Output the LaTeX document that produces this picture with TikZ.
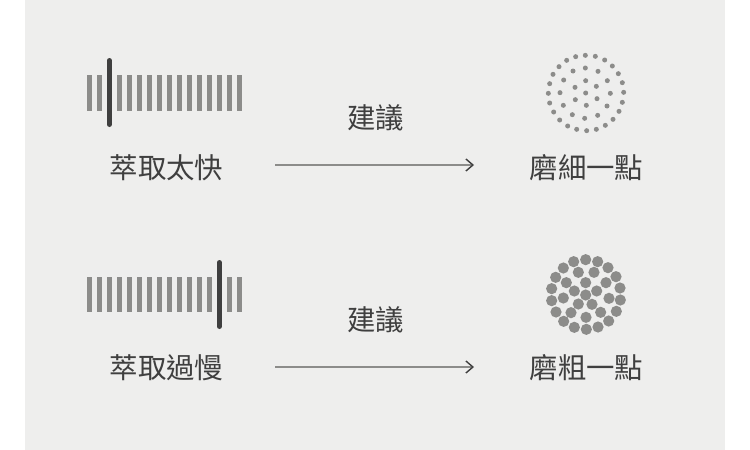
\documentclass[tikz,border=0pt]{standalone}
\usepackage{fontspec}
\newfontfamily\cjk{Noto Sans CJK TC}
\usetikzlibrary{arrows.meta}
\definecolor{panel}{HTML}{EEEEED}
\definecolor{ink}{HTML}{3F3F3F}
\definecolor{mid}{HTML}{8C8C8A}

\begin{document}
\begin{tikzpicture}[x=1pt, y=-1pt]

      \tikzset{
        label/.style={text=ink, inner sep=0pt, font=\cjk\fontsize{28.4}{28.4}\selectfont},
        bar/.style={draw=mid, line width=5pt, xshift=0.4pt},
        marker/.style={draw=ink, line width=5pt, line cap=round, xshift=0.4pt},
        grain/.style={fill=mid},
        advice/.style={draw=mid, line width=1.3pt, -{Straight Barb[color=ink, length=7pt, width=12pt, line width=1.4pt]}},
      }

      \useasboundingbox (0,0) rectangle (750,450);
      \fill[panel] (25,0) rectangle (725,450);

      % grind bars
      \foreach \x in {89,99,119,129,...,239} { \draw[bar] (\x,75)--(\x,111); };
      \draw[marker] (109,60.5)--(109,124.5);
      \foreach \x in {89,99,...,209,229,239} { \draw[bar] (\x,277)--(\x,312); };
      \draw[marker] (219,262.5)--(219,326.5);

      % fine grains, read off in crop pixels
      \begin{scope}[shift={(530,40)}, x=1pt/3, y=-1pt/3]
        \foreach \a/\b in {166/46,196/49,224/60,247/78,265/101,277/128,281/157,277/187,
            267/214,249/238,226/256,199/268,170/272,140/268,113/258,89/240,71/216,59/189,
            55/160,59/131,69/103,87/80,110/61,137/50,
            166/84,204/94,232/122,241/160,231/198,203/226,164/235,127/224,100/196,90/158,
            101/120,129/93,
            167/122,199/139,201/176,169/196,136/179,135/142,167/159} {
          \fill[grain] (\a,\b) circle[radius=2.5pt];
        };
      \end{scope}

      % coarse grains
      \begin{scope}[shift={(530,245)}, x=1pt/3, y=-1pt/3]
        \foreach \a/\b in {167/44,203/50,234/68,258/95,270/129,271/165,259/199,236/228,
            204/246,169/253,133/247,101/229,78/201,65/167,65/131,77/97,100/69,131/50,
            145/82,192/82,228/113,237/160,212/202,168/217,123/203,100/159,109/113,
            167/113,200/138,186/178,145/177,133/138,167/150} {
          \fill[grain] (\a,\b) circle[radius=5.6pt];
        };
      \end{scope}

      \node[label](fast) at (166.5,168) {萃取太快};
      \node[label](advicetop) at (375.5,118) {建議};
      \node[label](finer) at (586.5,168) {磨細一點};
      \node[label](slow) at (166.5,368) {萃取過慢};
      \node[label](advicebottom) at (375.5,320) {建議};
      \node[label](coarser) at (586.5,368) {磨粗一點};

      \coordinate(fastout) at (275,165);
      \coordinate(finerin) at (474,165);
      \coordinate(slowout) at (275,367);
      \coordinate(coarserin) at (474,367);

      \draw[advice] (fastout)--(finerin);
      \draw[advice] (slowout)--(coarserin);

    \end{tikzpicture}
\end{document}
